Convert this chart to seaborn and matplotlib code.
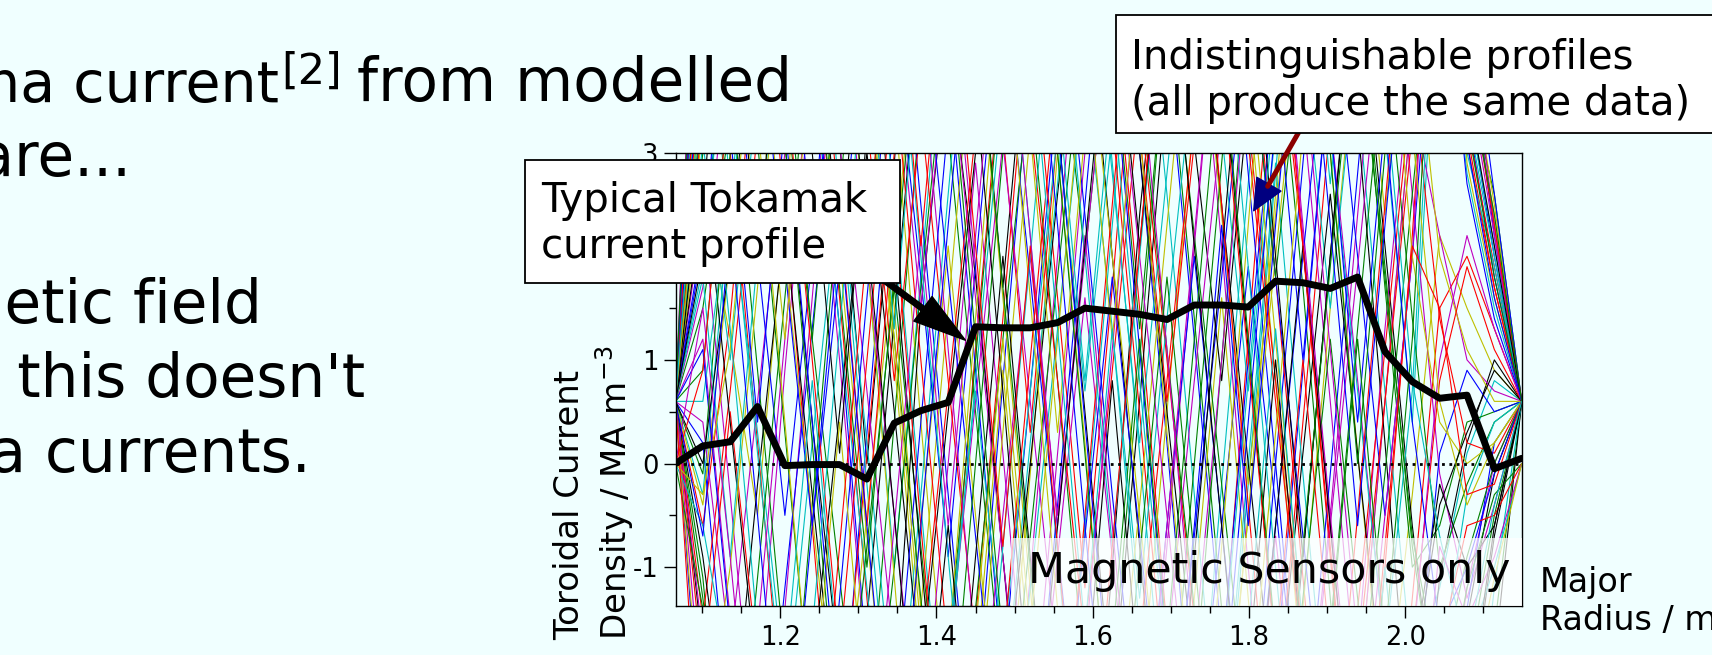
import numpy as np
import pandas as pd
import matplotlib
matplotlib.use("Agg")
import matplotlib.pyplot as plt
from matplotlib.patches import Rectangle
from matplotlib.ticker import FixedLocator, MultipleLocator
import seaborn as sns

# ---------------- data ----------------
R_major = [1.066, 1.101, 1.136, 1.171, 1.206, 1.241, 1.276, 1.311, 1.346, 1.380,
           1.415, 1.450, 1.485, 1.520, 1.555, 1.590, 1.625, 1.660, 1.695, 1.730,
           1.765, 1.799, 1.834, 1.869, 1.904, 1.939, 1.974, 2.009, 2.044, 2.079,
           2.114, 2.149]

typical_profile = [0.0, 0.17, 0.21, 0.55, -0.02, -0.01, -0.01, -0.15, 0.39, 0.51,
                   0.59, 1.32, 1.31, 1.31, 1.36, 1.50, 1.47, 1.44, 1.39, 1.53,
                   1.53, 1.51, 1.76, 1.745, 1.69, 1.80, 1.08, 0.79, 0.63, 0.66,
                   -0.05, 0.05]

p01 = [0.6, 3.5, 6.8, 9.0, 7.2, 4.1, 1.3, -1.9, -4.6, -7.0, -5.2, -2.4, 0.8, 3.9, 6.5, 8.8, 6.1, 3.0, 0.2, -2.8, -5.5, -3.1, 0.0, 2.9, 5.8, 8.1, 9.4, 7.0, 8.5, 3.6, 2.0, 0.6]
p02 = [0.6, -1.1, -3.9, -6.2, -3.5, -0.4, 2.6, 5.4, 8.2, 6.0, 3.2, 0.5, -2.2, -4.9, -7.3, -5.0, -2.1, 1.0, 4.2, 7.1, 9.3, 7.5, 4.4, 1.7, -1.3, -4.2, -6.5, -4.0, -5.5, -4.0, -1.6, 0.6]
p03 = [0.6, 4.2, 7.9, 5.5, 2.4, -0.6, -3.7, -6.1, -8.0, -5.3, -2.0, 1.1, 4.0, 7.2, 9.8, 7.1, 4.3, 1.5, -1.6, -4.4, -2.0, 1.2, 4.5, 2.1, -0.9, -3.8, -1.0, 2.2, 6.2, 3.1, 1.7, 0.6]
p04 = [0.6, 1.9, 4.6, 7.5, 10.0, 8.3, 5.2, 2.0, -1.0, 1.8, 4.9, 7.7, 5.0, 2.2, -0.9, -3.6, -6.4, -8.5, -6.0, -3.3, -0.2, 2.7, 5.6, 8.3, 6.4, 3.5, 0.7, -2.0, -1.2, 0.1, 0.8, 0.6]
p05 = [0.6, -2.4, -5.0, -2.3, 0.9, 3.8, 1.0, -2.0, -4.8, -7.4, -9.0, -6.6, -3.9, -1.1, 2.0, 5.1, 8.0, 10.2, 7.8, 5.0, 2.1, -1.0, -3.9, -6.8, -4.5, -1.8, 1.3, 4.0, 6.5, 4.0, 2.3, 0.6]
p06 = [0.6, 2.7, 1.2, -0.5, 2.4, 5.5, 8.6, 6.3, 3.5, 0.4, -2.6, -5.4, -3.0, -0.1, 3.0, 0.2, -3.0, -5.9, -8.4, -6.0, -3.2, -0.5, 2.6, 5.5, 3.0, 0.1, -2.6, -0.3, 2.2, 1.5, 0.9, 0.6]
p07 = [0.6, 5.0, 8.5, 11.0, 8.7, 6.0, 3.1, 0.0, 2.9, 6.1, 9.0, 11.5, 9.2, 6.4, 3.3, 0.5, -2.3, 0.6, 3.7, 6.6, 4.0, 1.1, -1.8, -4.5, -7.2, -9.0, -6.5, -3.6, -1.1, 0.2, 1.0, 0.6]
p08 = [0.6, 0.2, -2.6, -5.3, -8.0, -5.6, -2.9, 0.3, 3.4, 6.5, 3.8, 0.9, -2.0, 0.7, 3.6, 6.7, 9.3, 6.8, 4.0, 1.2, -1.7, -4.6, -2.0, 0.9, 3.9, 6.8, 9.1, 6.2, 8.8, 3.4, 1.8, 0.6]
p09 = [0.6, 3.0, 5.9, 3.1, 0.3, -2.5, -5.3, -2.7, 0.4, 3.5, 6.2, 9.0, 6.5, 3.6, 0.8, -2.1, -4.9, -7.6, -5.0, -2.2, 1.0, 4.1, 7.0, 9.6, 7.2, 4.5, 1.7, -1.0, -0.6, 0.4, 0.5, 0.6]
p10 = [0.6, -0.6, 1.4, 4.3, 7.0, 4.4, 1.6, -1.3, -4.1, -6.9, -4.2, -1.5, 1.4, 4.4, 1.6, -1.2, 1.7, 4.8, 7.5, 10.1, 7.4, 4.6, 1.8, -1.1, -3.9, -6.7, -4.0, -1.3, 1.5, 2.0, 1.3, 0.6]
p11 = [0.6, 4.6, 2.3, 5.1, 8.0, 10.8, 8.1, 5.3, 2.5, -0.4, -3.3, -6.0, -8.8, -6.2, -3.4, -0.6, 2.3, 5.2, 2.6, -0.3, -3.1, -0.2, 2.8, 5.9, 8.8, 6.0, 3.2, 0.4, 5.1, 2.8, 1.5, 0.6]
p12 = [0.6, 1.2, -1.5, -4.2, -1.4, 1.6, 4.6, 7.5, 10.3, 7.6, 4.7, 1.9, -0.9, -3.8, -6.6, -9.2, -6.5, -3.7, -0.8, 2.1, 5.0, 7.9, 5.1, 2.3, -0.5, 2.4, 5.3, 2.6, -0.1, -1.3, -0.4, 0.6]
p13 = [0.6, 3.8, 6.6, 9.5, 12.0, 9.4, 6.7, 3.9, 1.0, -1.9, -4.7, -2.0, 0.9, -1.9, -4.8, -7.7, -5.1, -2.4, 0.5, 3.4, 6.3, 3.6, 0.8, -2.1, -5.0, -2.3, 0.6, 3.5, 6.0, 3.9, 2.4, 0.6]
p14 = [0.6, -1.8, -4.4, -7.1, -9.7, -7.0, -4.3, -1.5, 1.4, 4.3, 7.2, 4.5, 1.7, 4.6, 7.5, 4.8, 2.0, -0.8, -3.7, -6.5, -9.1, -6.4, -3.6, -0.9, 2.0, 4.8, 2.1, -0.6, -2.8, -3.9, -1.9, 0.6]
p15 = [0.6, 2.1, 4.9, 7.7, 5.0, 2.2, 5.1, 8.0, 5.3, 2.5, -0.3, -3.2, -6.0, -3.3, -0.4, 2.5, 5.4, 8.3, 11.0, 8.4, 5.6, 2.8, 0.0, -2.9, -0.1, 2.8, 5.7, 8.2, 9.6, 4.2, 2.2, 0.6]
p16 = [0.6, 0.9, 3.7, 0.9, -1.9, -4.7, -7.5, -10.1, -7.4, -4.6, -1.8, 1.0, 3.9, 6.8, 9.6, 6.9, 4.1, 1.3, 4.2, 1.4, -1.4, -4.3, -7.1, -4.4, -1.6, 1.3, 4.1, 1.4, -1.0, -0.2, 0.4, 0.6]
p17 = [0.6, 5.6, 3.0, 0.2, -2.7, -5.5, -2.8, 0.1, 3.0, 5.9, 8.7, 6.0, 3.2, 0.3, 3.2, 6.1, 3.3, 0.5, -2.4, -5.2, -8.0, -5.3, -2.5, 0.4, 3.3, 6.2, 9.0, 11.5, 8.0, 3.3, 1.9, 0.6]
p18 = [0.6, -0.3, 2.5, 5.3, 8.1, 5.4, 2.6, -0.2, -3.1, -0.3, 2.6, 5.5, 8.4, 11.1, 8.5, 5.7, 2.9, 0.1, -2.8, -5.6, -2.9, 0.0, 2.9, -0.1, -2.9, -5.8, -8.6, -5.9, -3.0, -3.5, -1.2, 0.6]
p19 = [0.6, 2.4, -0.3, -3.1, -5.9, -8.6, -11.0, -8.4, -5.7, -2.9, 0.0, 2.9, 0.1, -2.8, 0.1, 3.0, 5.9, 8.7, 6.0, 3.2, 6.1, 9.0, 6.2, 3.4, 0.6, -2.3, 0.6, 3.5, 2.2, 1.0, 0.7, 0.6]
p20 = [0.6, 4.0, 6.9, 4.1, 7.0, 9.8, 7.1, 4.3, 1.5, -1.4, 1.5, 4.4, 1.6, -1.2, -4.1, -6.9, -9.6, -6.9, -4.1, -1.3, 1.6, -1.3, -4.2, -1.4, 1.5, 4.3, 7.1, 4.4, 6.8, 2.9, 1.6, 0.6]
p21 = [0.6, 6.2, 9.0, 6.5, 3.1, 0.4, -2.0, -4.6, -2.2, 1.5, 4.0, 1.8, -0.9, -3.5, -6.3, -4.0, -1.0, 2.4, 5.0, 3.1, 0.8, 3.5, 6.9, 9.2, 6.4, 3.3, 0.2, -3.0, -5.1, -2.6, -0.7, 0.6]
p22 = [0.6, -3.0, -6.1, -3.8, -1.2, 1.3, 3.9, 6.4, 4.2, 1.8, -0.9, 1.9, 4.7, 7.6, 5.0, 2.4, -0.3, -2.8, -5.3, -3.0, -0.6, 1.9, -0.4, -2.9, -5.6, -8.0, -5.5, -2.6, 0.1, 0.9, 0.5, 0.6]
p23 = [0.6, 1.5, 3.3, 5.9, 3.6, 1.2, -1.1, -3.4, -1.0, 1.7, 4.3, 6.8, 9.4, 7.0, 4.4, 2.0, 4.5, 7.1, 4.6, 2.2, -0.2, -2.6, -5.0, -7.5, -5.1, -2.5, -0.1, 2.6, 5.2, 3.7, 2.6, 0.6]
p24 = [0.6, -1.5, 0.7, 3.2, 5.8, 8.5, 6.0, 3.3, 5.9, 3.4, 0.8, -1.7, -4.3, -6.8, -4.1, -1.6, 0.9, 3.5, 1.0, -1.5, -4.0, -6.6, -9.1, -6.5, -3.9, -1.4, 1.1, 3.7, 1.4, 0.2, 0.1, 0.6]
p25 = [0.6, 3.1, 1.0, 3.6, 6.2, 3.9, 1.3, -1.2, -3.8, -6.3, -8.9, -6.4, -3.7, -1.2, 1.3, 3.8, 1.3, -1.3, 1.4, 3.9, 6.5, 9.0, 6.6, 4.0, 1.5, 4.1, 6.6, 9.0, 6.1, 3.5, 2.1, 0.6]
p26 = [0.6, 0.4, -1.8, 0.6, 3.0, 5.5, 3.1, 0.7, -1.8, -4.3, -1.9, 0.6, 3.1, 0.6, -1.9, -4.4, -6.9, -4.3, -1.8, 0.8, 3.3, 5.9, 8.4, 5.9, 3.3, 0.8, -1.8, -4.3, -3.0, -1.2, 0.0, 0.6]
p27 = [0.6, 4.8, 7.6, 10.1, 7.3, 4.6, 2.0, -0.7, -3.3, -0.6, 2.1, -0.5, -3.1, -5.8, -8.4, -5.7, -3.0, -0.4, 2.3, 5.0, 2.4, -0.2, 2.4, 5.1, 7.7, 5.0, 2.4, 5.0, 7.2, 4.1, 2.5, 0.6]
p28 = [0.6, -0.9, -2.9, -0.2, 2.3, -0.3, -2.8, -5.3, -7.8, -10.2, -7.6, -5.0, -2.5, 0.0, 2.6, 5.1, 7.7, 10.2, 7.6, 5.1, 2.5, 0.0, -2.5, 0.1, 2.6, 0.1, -2.4, -4.9, -3.2, -1.5, -0.1, 0.6]
p29 = [0.6, 2.2, 4.4, 2.0, -0.5, 2.0, 4.5, 7.0, 9.5, 12.0, 9.4, 6.9, 4.3, 1.8, -0.8, -3.3, -5.8, -3.2, -0.6, 2.0, -0.6, -3.1, -0.6, 2.0, 4.5, 2.0, -0.5, 2.0, 5.3, 2.7, 1.4, 0.6]
p30 = [0.6, 3.6, 6.1, 8.7, 6.2, 8.8, 6.3, 3.8, 1.2, -1.3, -3.9, -1.4, 1.2, 3.7, 6.3, 8.8, 6.2, 3.7, 1.1, -1.4, -3.9, -6.4, -3.9, -1.3, 1.2, -1.3, -3.8, -6.3, -4.4, -2.0, -0.5, 0.6]
p31 = [0.6, -2.0, 0.5, -1.9, -4.4, -6.8, -9.3, -6.8, -4.3, -1.8, 0.7, 3.2, 5.7, 3.2, 5.8, 8.3, 5.7, 3.2, 0.6, 3.1, 5.6, 3.1, 0.6, -1.9, -4.4, -1.9, 0.6, 3.2, 5.4, 3.2, 1.7, 0.6]
p32 = [0.6, 5.3, 2.7, 0.1, -2.4, 0.2, 2.7, 0.2, -2.4, -4.9, -7.5, -5.0, -2.4, 0.2, 2.7, 5.3, 2.8, 0.2, 2.8, 5.4, 7.9, 10.4, 7.8, 5.3, 2.7, 5.2, 7.8, 5.2, 7.4, 3.0, 1.9, 0.6]
p33 = [0.6, 1.7, 4.1, 6.6, 9.1, 11.5, 9.0, 6.5, 4.0, 1.5, 4.1, 1.6, -0.9, -3.4, -0.9, 1.6, -0.9, -3.4, -5.9, -8.4, -5.8, -3.2, -0.7, -3.2, -0.6, 1.9, 4.5, 7.0, 9.0, 4.4, 2.3, 0.6]
p34 = [0.6, -0.4, 2.0, 4.5, 2.0, -0.5, -3.0, -0.5, 2.0, 4.6, 7.1, 9.6, 7.1, 4.5, 7.0, 4.5, 2.0, -0.5, -3.1, -5.6, -3.1, -0.5, 2.0, 4.5, 7.0, 9.5, 7.0, 4.5, 2.0, 1.1, 0.6, 0.6]
p35 = [0.6, 2.9, 0.4, -2.1, -4.6, -2.0, 0.5, 3.0, 0.5, -2.0, 0.5, 3.0, 5.5, 8.0, 10.5, 8.0, 5.5, 3.0, 0.5, -2.0, -4.5, -7.0, -9.5, -7.0, -4.5, -2.0, -4.5, -2.0, -0.2, -1.0, -0.6, 0.6]
p36 = [0.6, 4.4, 7.0, 4.4, 1.9, -0.6, 1.9, 4.4, 6.9, 4.4, 1.8, -0.7, -3.2, -5.7, -3.2, -0.7, 1.8, -0.7, -3.2, -0.7, 1.8, 4.3, 1.8, -0.7, -3.2, -5.7, -8.2, -5.7, -3.2, -1.4, 0.2, 0.6]
p37 = [0.6, -1.3, -3.4, -5.8, -8.3, -5.8, -3.3, -0.8, 1.7, -0.8, -3.3, -5.8, -3.3, -0.7, 1.8, 4.3, 6.8, 9.3, 11.8, 9.3, 6.8, 4.3, 1.8, 4.3, 6.8, 4.3, 1.8, -0.7, -2.1, -0.9, 0.0, 0.6]
p38 = [0.6, 3.4, 5.8, 8.3, 10.8, 8.3, 5.8, 3.3, 0.8, 3.3, 5.8, 8.3, 5.8, 3.3, 0.8, -1.7, -4.2, -1.7, 0.8, 3.3, 5.8, 3.3, 0.8, -1.7, -4.2, -6.7, -4.2, -1.7, 0.8, 1.9, 1.1, 0.6]
p39 = [0.6, 0.6, 2.6, 0.3, -2.1, -4.5, -6.9, -9.3, -6.8, -4.3, -1.8, 0.7, -1.8, 0.7, 3.2, 0.7, 3.2, 5.7, 8.2, 5.7, 3.2, 0.7, 3.2, 5.7, 3.2, 0.7, -1.8, 0.7, 5.6, 3.4, 2.0, 0.6]
p40 = [0.6, 7.0, 4.5, 7.0, 9.5, 7.0, 4.5, 2.0, -0.5, -3.0, -5.5, -3.0, -0.5, 2.0, -0.5, 2.0, 4.5, 2.0, -0.5, -3.0, -5.5, -8.0, -5.5, -3.0, -0.5, -3.0, -0.5, 2.0, 6.4, 3.8, 2.2, 0.6]
p41 = [0.6, -2.8, -1.0, 1.7, 4.9, 8.1, 5.2, 2.0, -1.1, -4.2, -1.8, 1.4, 4.5, 1.6, -1.4, -4.5, -7.4, -10.0, -7.1, -4.0, -0.8, 2.3, 5.5, 8.4, 11.0, 8.0, 5.1, 2.0, 0.4, 0.0, 0.2, 0.6]
p42 = [0.6, 2.5, 5.6, 8.9, 6.1, 3.0, 0.1, 3.2, 6.4, 9.5, 6.6, 3.6, 0.7, -2.4, -5.3, -2.3, 0.8, -2.1, -5.0, -7.9, -5.0, -2.0, 1.0, -1.9, -4.9, -7.8, -5.0, -2.1, -0.4, 0.3, 0.9, 0.6]
p43 = [0.6, 1.1, -1.6, -4.4, -7.0, -4.2, -1.3, 1.6, 4.4, 7.3, 10.0, 7.2, 4.3, 7.0, 9.7, 6.9, 4.0, 1.1, -1.8, -4.7, -1.9, 1.0, 3.8, 1.0, 3.9, 6.8, 4.0, 6.9, 8.7, 4.6, 2.6, 0.6]
p44 = [0.6, -0.1, 3.0, 6.0, 3.1, 0.2, -2.8, -5.8, -8.7, -5.9, -3.0, 0.0, 3.0, 6.0, 3.0, 0.1, -2.9, -5.8, -3.0, 0.0, 2.9, 5.8, 8.7, 5.9, 3.0, 0.0, 3.0, 5.8, 7.9, 3.3, 1.8, 0.6]
p45 = [0.6, 4.9, 8.0, 11.2, 8.3, 5.3, 2.4, -0.6, 2.4, -0.6, -3.5, -6.4, -9.3, -6.4, -3.4, -0.5, 2.5, 5.4, 8.3, 5.4, 2.5, -0.4, -3.3, -6.2, -3.4, -0.5, 2.5, 5.4, 8.0, 3.9, 2.3, 0.6]
p46 = [0.6, 1.8, -0.9, 2.0, 4.8, 7.6, 10.4, 7.6, 4.8, 2.0, -0.9, -3.7, -0.8, 2.0, 4.9, 2.0, -0.8, 2.0, 4.8, 7.6, 4.7, 1.9, -1.0, -3.8, -6.7, -3.9, -1.0, -3.6, -2.0, -0.3, 0.4, 0.6]
p47 = [0.6, -1.7, -4.5, -1.6, 1.2, 4.1, 6.9, 9.8, 6.9, 4.0, 1.1, -1.8, -4.6, -7.5, -4.7, -1.8, 1.1, 4.0, 1.1, -1.8, 1.0, 3.9, 6.8, 3.9, 1.1, -1.7, -4.6, -1.8, 1.0, 2.2, 1.3, 0.6]
p48 = [0.6, 3.3, 6.2, 3.3, 0.4, -2.5, 0.4, -2.5, -5.4, -8.3, -5.5, -2.6, 0.3, 3.2, 0.3, 3.2, 6.1, 3.2, 0.3, -2.6, -5.5, -2.6, 0.3, 3.2, 6.1, 9.0, 6.1, 3.2, 0.6, -0.4, 0.2, 0.6]
p49 = [0.6, 0.0, 2.0, 4.9, 7.8, 4.9, 2.0, 4.9, 2.0, -0.9, -3.8, -0.9, 2.0, -0.9, -3.8, -6.7, -9.6, -6.7, -3.8, -0.9, 2.0, 4.9, 2.0, -0.9, 2.0, 4.9, 7.8, 10.5, 7.0, 3.6, 2.1, 0.6]
p50 = [0.6, 5.8, 3.2, 0.4, 3.3, 0.4, -2.5, -5.4, -2.5, 0.4, 3.3, 6.2, 9.1, 6.2, 3.3, 0.4, -2.5, -5.4, -8.3, -5.4, -2.5, 0.4, 3.3, 6.2, 3.3, 0.4, 3.3, 0.4, -1.6, -1.0, -0.1, 0.6]
p51 = [0.0, -1.4, -3.8, -1.1, 1.6, 4.4, 1.7, -1.0, 1.8, 4.5, 7.2, 4.4, 1.7, -1.0, -3.7, -6.4, -3.6, -0.9, 1.8, -0.9, -3.6, -6.3, -3.5, -0.8, 1.9, 4.6, 1.9, -0.8, -2.6, -1.2, -0.3, 0.0]
p52 = [0.0, 0.9, 3.7, 6.6, 3.8, 1.0, -1.8, 1.0, 3.8, 1.0, -1.8, -4.6, -1.8, 1.0, 3.8, 6.6, 9.4, 6.6, 3.8, 6.6, 3.8, 1.0, -1.8, 1.0, -1.8, -4.6, -7.4, -4.6, -1.8, -0.6, -0.5, 0.0]
p53 = [0.0, -0.6, -2.1, -4.8, -2.0, 0.8, -2.0, -4.8, -7.6, -4.8, -2.0, 0.8, 3.6, 6.4, 3.6, 0.8, 3.6, 0.8, -2.0, -4.8, -2.0, 0.8, 3.6, 6.4, 9.2, 6.4, 3.6, 0.8, -0.7, -1.8, -1.0, 0.0]
p54 = [0.0, 1.5, -0.9, -3.6, -6.3, -9.0, -6.2, -3.4, -0.6, 2.2, -0.6, 2.2, 5.0, 2.2, -0.6, 2.2, -0.6, -3.4, -0.6, 2.2, 5.0, 7.8, 5.0, 2.2, -0.6, -3.4, -6.2, -3.4, -0.8, -1.5, -0.9, 0.0]
p55 = [0.0, -0.3, 1.1, 3.8, 1.2, 4.0, 6.8, 4.0, 1.2, -1.6, -4.4, -1.6, 1.2, -1.6, 1.2, 4.0, 1.2, 4.0, 6.8, 9.6, 6.8, 4.0, 1.2, -1.6, -4.4, -1.6, -4.4, -7.2, -4.4, -2.4, -1.1, 0.0]
p56 = [0.6, 2.0, 4.7, 2.1, 4.8, 7.5, 4.9, 2.2, -0.5, -3.2, -0.6, -3.3, -6.0, -3.3, -0.6, 2.1, 4.8, 2.1, 4.8, 2.1, -0.6, -3.3, -0.6, 2.1, -0.6, -3.3, -6.0, -8.7, -5.4, -2.5, -0.6, 0.6]
p57 = [0.6, -0.7, 2.3, -0.5, -3.4, -0.6, 2.3, -0.6, -3.4, -0.6, 2.3, 5.1, 7.9, 5.1, 2.3, -0.6, -3.4, -6.2, -3.4, -0.6, 2.3, -0.6, 2.3, 5.1, 2.3, -0.6, 2.3, 5.1, 6.5, 3.1, 1.6, 0.6]
p58 = [0.6, 6.6, 9.9, 7.0, 4.1, 1.2, 4.1, 7.0, 9.9, 7.0, 4.1, 1.2, -1.7, -4.6, -7.5, -4.6, -1.7, 1.2, -1.7, 1.2, 4.1, 1.2, -1.7, -4.6, -1.7, 1.2, -1.7, 1.2, 5.8, 3.8, 2.4, 0.6]
p59 = [0.6, -3.5, -6.6, -9.5, -6.6, -3.7, -0.8, 2.1, 5.0, 2.1, 5.0, 2.1, -0.8, 2.1, -0.8, -3.7, -0.8, 2.1, 5.0, 7.9, 10.8, 7.9, 5.0, 2.1, -0.8, -3.7, -0.8, 2.1, 1.5, -0.3, -0.2, 0.6]
p60 = [0.6, 3.9, 1.3, -1.6, -4.5, -1.6, 1.3, 4.2, 1.3, 4.2, 7.1, 10.0, 7.1, 4.2, 1.3, -1.6, 1.3, -1.6, -4.5, -7.4, -4.5, -1.6, 1.3, -1.6, -4.5, -7.4, -10.3, -7.4, -4.5, -1.8, -0.4, 0.6]

profiles = [p01, p02, p03, p04, p05, p06, p07, p08, p09, p10,
            p11, p12, p13, p14, p15, p16, p17, p18, p19, p20,
            p21, p22, p23, p24, p25, p26, p27, p28, p29, p30,
            p31, p32, p33, p34, p35, p36, p37, p38, p39, p40,
            p41, p42, p43, p44, p45, p46, p47, p48, p49, p50,
            p51, p52, p53, p54, p55, p56, p57, p58, p59, p60]

line_colours = ["#0000ff", "#008000", "#ff0000", "#00bfbf", "#bf00bf", "#bfbf00", "#000000"]

x_ticks = [1.2, 1.4, 1.6, 1.8, 2.0]
x_tick_labels = ["1.2", "1.4", "1.6", "1.8", "2.0"]
y_ticks = [-1, 0, 1, 2, 3]
y_tick_labels = ["-1", "0", "1", "", "3"]   # the "2" sits behind the callout box

# ---------------- style ----------------
BG = "#f0ffff"
sns.set_theme(style="ticks", color_codes=False)
plt.rcParams.update({
    "font.family": ["DejaVu Sans"],
    "figure.facecolor": BG,
    "axes.facecolor": BG,
    "savefig.facecolor": BG,
    "axes.edgecolor": "black",
    "axes.linewidth": 1.0,
    "xtick.color": "black",
    "ytick.color": "black",
    "text.color": "black",
    "axes.labelcolor": "black",
    "axes.unicode_minus": False,
})

W, H = 1712, 655
fig = plt.figure(figsize=(W / 100, H / 100), dpi=100)
ax = fig.add_axes([675.5 / W, (H - 606) / H, 846.2 / W, 453.3 / H])

# long-form table of the sampled profiles
rows = []
for k, prof in enumerate(profiles):
    for r, j in zip(R_major, prof):
        rows.append((f"p{k:02d}", r, j))
df = pd.DataFrame(rows, columns=["profile", "R", "J"])
palette = [line_colours[k % len(line_colours)] for k in range(len(profiles))]

sns.lineplot(data=df, x="R", y="J", hue="profile", palette=palette, legend=False,
             linewidth=0.8, estimator=None, sort=False, ax=ax, zorder=2)

ax.axhline(0, color="black", linestyle=":", linewidth=2.0, zorder=3)

sns.lineplot(x=R_major, y=typical_profile, color="black", linewidth=5,
             errorbar=None, ax=ax, zorder=4)

ax.set_xlim(1.066, 2.149)
ax.set_ylim(-1.375, 3.0)

ax.xaxis.set_major_locator(FixedLocator(x_ticks))
ax.set_xticklabels(x_tick_labels)
ax.xaxis.set_minor_locator(MultipleLocator(0.05))
ax.yaxis.set_major_locator(FixedLocator(y_ticks))
ax.set_yticklabels(y_tick_labels)
ax.yaxis.set_minor_locator(MultipleLocator(0.5))
ax.tick_params(which="major", direction="out", length=8.5, width=1.0, labelsize=18.5)
ax.tick_params(which="minor", direction="out", length=5, width=1.0)
ax.tick_params(axis="x", which="major", pad=5.5)
ax.tick_params(axis="y", which="major", pad=3.5)
for s in ax.spines.values():
    s.set_visible(True)
    s.set_color("black")

ax.set_ylabel("Toroidal Current\nDensity / MA m$^{-3}$", fontsize=24.5, multialignment="left")
ax.yaxis.set_label_coords(-0.047, 0.25)
ax.set_xlabel("Major\nRadius / m", fontsize=24, ha="left", va="baseline", multialignment="left")
ax.xaxis.set_label_coords(1.0216, -0.053)

# faded box with caption
ax.add_patch(Rectangle((0.3965, 0.0), 0.6035, 0.15, transform=ax.transAxes,
                       facecolor="white", edgecolor="none", alpha=0.72, zorder=5))
ax.text(0.702, 0.0507, "Magnetic Sensors only", transform=ax.transAxes,
        fontsize=30.8, ha="center", va="baseline", zorder=6)

# arrows
tip1 = (1.437, 1.19)
ax.annotate("", xy=tip1, xycoords="data", xytext=(880, H - 277), textcoords="figure pixels",
            arrowprops=dict(facecolor="black", edgecolor="black", width=4, headwidth=22,
                            headlength=38, shrink=0), annotation_clip=False, zorder=7)

tip2 = (1.806, 2.44)
tail2 = np.array([1300.0, H - 130.0])
ax.annotate("", xy=tip2, xycoords="data", xytext=tuple(tail2), textcoords="figure pixels",
            arrowprops=dict(facecolor="#000080", edgecolor="#000080", width=1, headwidth=20,
                            headlength=22, shrink=0), annotation_clip=False, zorder=7)
tip2_px = ax.transData.transform(tip2)
d = tip2_px - tail2
d = d / np.hypot(*d)
base_px = tip2_px - d * 22 * 100 / 72 * 0.92
base_data = ax.transData.inverted().transform(base_px)
ax.annotate("", xy=tuple(base_data), xycoords="data", xytext=tuple(tail2), textcoords="figure pixels",
            arrowprops=dict(arrowstyle="-", color="#8b0000", lw=3.6, shrinkA=0, shrinkB=0),
            annotation_clip=False, zorder=8)

# callout boxes (frames in figure pixels, text baseline = last line)
def callout(x0, y0, x1, y1):
    fig.add_artist(Rectangle((x0 / W, (H - y1) / H), (x1 - x0) / W, (y1 - y0) / H,
                             transform=fig.transFigure, facecolor="white",
                             edgecolor="black", linewidth=1.3, zorder=9))

callout(524.7, 160, 900, 282.7)
fig.text(541 / W, (H - 258) / H, "Typical Tokamak\ncurrent profile", fontsize=29,
         ha="left", va="baseline", zorder=10)
callout(1115.7, 15, 1730, 132.7)
fig.text(1131 / W, (H - 115) / H, "Indistinguishable profiles\n(all produce the same data)",
         fontsize=29, ha="left", va="baseline", zorder=10)

# slide text (cut at the left edge as in the original slide)
fs = 43
fig.text(279 / W, (H - 101.5) / H, "plasma current", fontsize=41, ha="right", va="baseline")
fig.text(281.5 / W, (H - 84) / H, "[2]", fontsize=31, ha="left", va="baseline")
fig.text(357 / W, (H - 101.5) / H, "from modelled", fontsize=fs, ha="left", va="baseline")
fig.text(131 / W, (H - 176) / H, "data are...", fontsize=fs, ha="right", va="baseline")
fig.text(262 / W, (H - 323) / H, "magnetic field", fontsize=fs, ha="right", va="baseline")
fig.text(365 / W, (H - 397) / H, "But this doesn't", fontsize=fs, ha="right", va="baseline")
fig.text(311 / W, (H - 472) / H, "plasma currents.", fontsize=fs, ha="right", va="baseline")

fig.savefig("out.png", dpi=100, facecolor=BG)
